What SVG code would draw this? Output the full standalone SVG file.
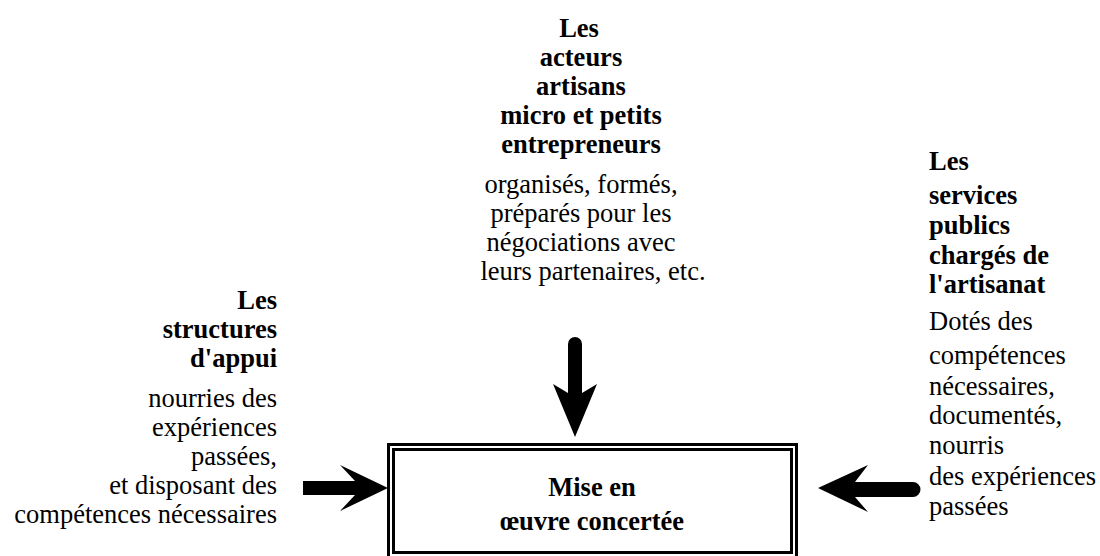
<svg xmlns="http://www.w3.org/2000/svg" width="1100" height="556" viewBox="0 0 1100 556" font-family="Liberation Serif, Times New Roman, serif" font-size="26.5">
<style>
text{font-family:'Liberation Serif','Times New Roman',serif;font-size:26.5px;fill:#000}
.b{font-weight:bold}
.c{text-anchor:middle}
.r{text-anchor:end}
.box{fill:none;stroke:#000;stroke-width:3}
.arr{fill:#000;stroke:none}
</style>
<rect width="1100" height="556" fill="#fff"/>
<g id="node-actors">
<text class="c b" x="579" y="37">Les</text>
<text class="c b" x="581" y="66">acteurs</text>
<text class="c b" x="581" y="95">artisans</text>
<text class="c b" x="581" y="124">micro et petits</text>
<text class="c b" x="581" y="153">entrepreneurs</text>
<text class="c" x="581" y="193">organisés, formés,</text>
<text class="c" x="581" y="222">préparés pour les</text>
<text class="c" x="581" y="251">négociations avec</text>
<text class="c" x="593" y="280">leurs partenaires, etc.</text>
</g>
<g id="node-structures">
<text class="r b" x="277" y="309">Les</text>
<text class="r b" x="277" y="338">structures</text>
<text class="r b" x="277" y="367">d'appui</text>
<text class="r" x="277" y="407">nourries des</text>
<text class="r" x="277" y="436">expériences</text>
<text class="r" x="277" y="465">passées,</text>
<text class="r" x="277" y="494">et disposant des</text>
<text class="r" x="277" y="523">compétences nécessaires</text>
</g>
<g id="node-services">
<text class="b" x="929" y="170">Les</text>
<text class="b" x="929" y="204">services</text>
<text class="b" x="929" y="234">publics</text>
<text class="b" x="929" y="264">chargés de</text>
<text class="b" x="929" y="293">l'artisanat</text>
<text x="929" y="330">Dotés des</text>
<text x="929" y="364">compétences</text>
<text x="929" y="395">nécessaires,</text>
<text x="929" y="424">documentés,</text>
<text x="929" y="454">nourris</text>
<text x="929" y="485">des expériences</text>
<text x="929" y="515">passées</text>
</g>
<g id="node-center">
<rect class="box" x="388.5" y="444.5" width="408" height="113"/>
<rect class="box" x="393.5" y="449.5" width="398" height="103"/>
<text class="c b" x="592" y="496">Mise en</text>
<text class="c b" x="592" y="530">œuvre concertée</text>
</g>
<g id="connectors">
<path class="arr" d="M568,344 a7,7 0 0 1 14,0 L582,393 L597,384 L575,437 L553,384 L568,393 Z"/>
<path class="arr" d="M303,481 L355,481 L340,465 L388,488 L340,511 L355,495 L303,495 Z"/>
<path class="arr" d="M913,482 a7.5,7.5 0 0 1 0,15 L855,497 L868,512 L818,488 L868,465 L855,482 Z"/>
</g>
</svg>
